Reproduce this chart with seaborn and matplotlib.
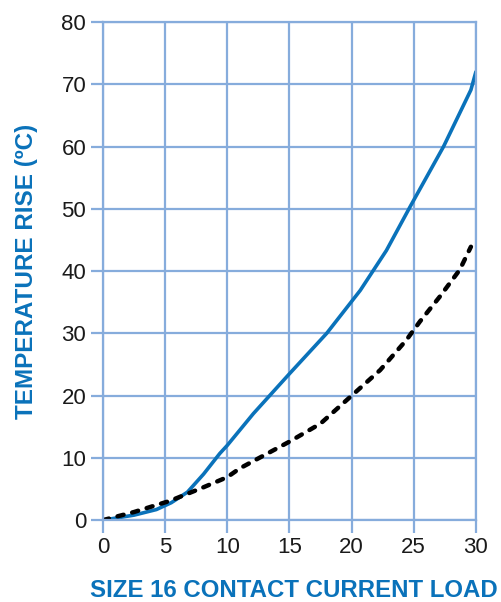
import matplotlib
matplotlib.use("Agg")
import matplotlib.pyplot as plt
from matplotlib import font_manager
import seaborn as sns
import pandas as pd

# Datos
corriente_azul = [0, 2.5, 4.3, 5.5, 6.8, 8.1, 9.4, 10, 12.1, 15, 18, 20.7, 22.8, 24.7, 27.4, 29.6, 30]
temp_azul = [0, 0.8, 1.7, 2.8, 4.5, 7.4, 10.7, 12, 17.1, 23.5, 30, 36.9, 43.3, 50.3, 60, 69.1, 72]

corriente_negra = [0, 2.5, 5.4, 8, 10, 11, 15, 17.5, 19.9, 22.3, 24.4, 25.5, 27.1, 28.7, 29.6]
temp_negra = [0, 1.3, 3.1, 5.2, 6.9, 8.3, 12.6, 15.5, 19.8, 24.1, 28.9, 31.9, 35.9, 40.2, 43.9]

x_ticks = [0, 5, 10, 15, 20, 25, 30]
y_ticks = [0, 10, 20, 30, 40, 50, 60, 70, 80]

azul = "#0a72ba"
grid_color = "#86acdc"

sns.set_style("white")
nombres = {f.name for f in font_manager.fontManager.ttflist}
fuente_ticks = "Liberation Sans Narrow" if "Liberation Sans Narrow" in nombres else "Liberation Sans"
plt.rcParams["font.family"] = [fuente_ticks, "DejaVu Sans"]

df_azul = pd.DataFrame({"corriente": corriente_azul, "temp": temp_azul})
df_negra = pd.DataFrame({"corriente": corriente_negra, "temp": temp_negra})

fig = plt.figure(figsize=(5.02, 6.02), dpi=100)
ax = fig.add_axes([0.205, 0.136, 0.743, 0.8275])

ax.set_axisbelow(True)
ax.grid(True, color=grid_color, linewidth=1.6)

sns.lineplot(data=df_azul, x="corriente", y="temp", ax=ax, color=azul,
             linewidth=2.6, estimator=None, sort=False)
sns.lineplot(data=df_negra, x="corriente", y="temp", ax=ax, color="black",
             linewidth=3.2, estimator=None, sort=False)
ax.lines[-1].set_dashes([1.4, 2.0])
ax.lines[-1].set_dash_capstyle("round")

ax.set_xlim(0, 30)
ax.set_ylim(0, 80)
ax.set_xticks(x_ticks)
ax.set_yticks(y_ticks)
ax.tick_params(axis="both", bottom=True, left=True, length=9, width=1.6,
               color=grid_color, labelcolor="#1a1a1a", labelsize=16, pad=3)
for s in ax.spines.values():
    s.set_color(grid_color)
    s.set_linewidth(1.6)

ax.set_xlabel("SIZE 16 CONTACT CURRENT LOAD", color=azul, fontsize=17.3,
              fontweight="bold", family="Liberation Sans")
ax.xaxis.set_label_coords(0.513, -0.118)
ax.set_ylabel("TEMPERATURE RISE (ºC)", color=azul, fontsize=17.5,
              fontweight="bold", family="Liberation Sans", labelpad=17)

plt.savefig("out.png", dpi=100)
